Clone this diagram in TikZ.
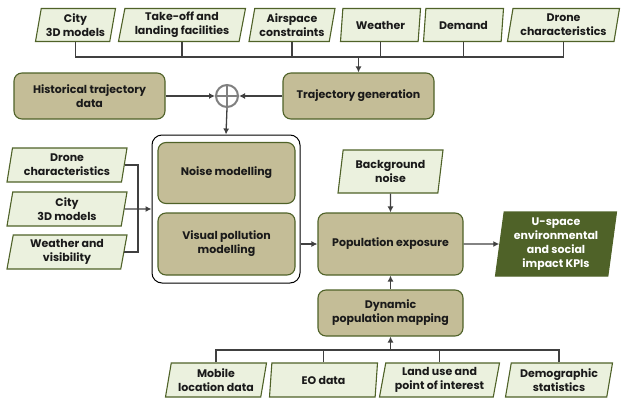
\documentclass[tikz,border=0pt]{standalone}
\usepackage{fontspec}
\setmainfont{Poppins}
\usetikzlibrary{shapes.geometric,arrows.meta}

\definecolor{inputfill}{HTML}{EBF1DE}
\definecolor{olivedark}{HTML}{4F6228}
\definecolor{tanfill}{HTML}{C4BD97}
\definecolor{wire}{HTML}{404040}
\definecolor{inktext}{HTML}{1A1A1A}

\tikzset{
  datain/.style={trapezium, trapezium left angle=77, trapezium right angle=103,
    trapezium stretches body, draw=olivedark, fill=inputfill, line width=1.1pt,
    align=center, inner sep=1pt, minimum height=33pt, text=inktext},
  dataout/.style={datain, trapezium left angle=81, trapezium right angle=99,
    fill=olivedark, text=white},
  process/.style={rectangle, rounded corners=8pt, draw=olivedark, fill=tanfill,
    line width=1.1pt, align=center, inner sep=2pt, text=inktext},
  wirebus/.style={draw=wire, line width=1.3pt},
  wirearr/.style={wirebus, -{Latex[length=6pt,width=6pt]}},
}

\begin{document}
\begin{tikzpicture}[x=1pt, y=-1pt, font=\fontsize{11}{14}\selectfont\bfseries]

  %% ════ top inputs ════
  \node[datain, minimum width=80pt]  (city)     at (75.5,25)  {City\\3D models};
  \node[datain, minimum width=127pt] (takeoff)  at (182,25)   {Take-off and\\landing facilities};
  \node[datain, minimum width=86pt]  (airspace) at (292,25)   {Airspace\\constraints};
  \node[datain, minimum width=80pt]  (weather)  at (380.5,25) {Weather};
  \node[datain, minimum width=80pt]  (demand)   at (463.5,25) {Demand};
  \node[datain, minimum width=112pt] (dronetop) at (563.5,25) {Drone\\characteristics};

  %% ════ trajectories ════
  \node[process, minimum width=151pt, minimum height=46pt] (histtraj) at (89.5,96)  {Historical trajectory\\data};
  \node[process, minimum width=151pt, minimum height=46pt] (trajgen)  at (358.5,96) {Trajectory generation};
  \node[circle, draw=gray, line width=2pt, minimum size=22pt, inner sep=0pt] (merge) at (227,96) {};
  \draw[gray, line width=2pt] (merge.north) -- (merge.south) (merge.west) -- (merge.east);

  %% ════ impact models ════
  \node[rectangle, rounded corners=10pt, draw=black, line width=1pt,
        minimum width=148pt, minimum height=148pt] (models) at (226,209) {};
  \node[process, minimum width=137pt, minimum height=61pt] (noise)  at (226.5,173) {Noise modelling};
  \node[process, minimum width=137pt, minimum height=62pt] (visual) at (226.5,244) {Visual pollution\\modelling};

  %% ════ left inputs ════
  \node[datain, minimum width=120pt, minimum height=34pt] (droneleft)   at (67,165) {Drone\\characteristics};
  \node[datain, minimum width=120pt, minimum height=34pt] (cityleft)    at (67,209) {City\\3D models};
  \node[datain, minimum width=120pt, minimum height=34pt] (weatherleft) at (67,252) {Weather and\\visibility};

  %% ════ exposure ════
  \node[process, minimum width=145pt, minimum height=62pt] (popexp) at (390.5,244) {Population exposure};
  \node[datain, minimum width=105pt, minimum height=43pt, trapezium left angle=78, trapezium right angle=102] (bgnoise) at (390.5,171.5) {Background\\noise};
  \node[dataout, minimum width=121pt, minimum height=64pt] (kpis) at (556,244) {U-space\\environmental\\and social\\impact KPIs};
  \node[process, minimum width=145pt, minimum height=46pt] (dynpop) at (390.5,313) {Dynamic\\population mapping};

  %% ════ bottom inputs ════
  \node[datain, minimum width=101pt, minimum height=34pt] (mobile)  at (216,380) {Mobile\\location data};
  \node[datain, minimum width=108pt, minimum height=34pt] (eodata)  at (323.5,380) {EO data};
  \node[datain, minimum width=120pt, minimum height=34pt] (landuse) at (439.5,380) {Land use and\\point of interest};
  \node[datain, minimum width=107pt, minimum height=34pt] (demog)   at (559,380) {Demographic\\statistics};

  %% ════ connectors ════
  \coordinate (topbus) at (358.5,57);
  \foreach \src in {city,takeoff,airspace,weather,demand,dronetop}
    \draw[wirebus] (\src.south) |- (topbus);
  \draw[wirearr] (topbus) -- (trajgen.north);
  \draw[wirearr] (histtraj.east) -- (merge.west);
  \draw[wirearr] (trajgen.west) -- (merge.east);
  \draw[wirearr] (merge.south) -- (models.north);

  \coordinate (leftbus) at (138,209);
  \draw[wirebus] (droneleft.east) -| (leftbus);
  \draw[wirebus] (weatherleft.east) -| (leftbus);
  \draw[wirearr] (cityleft.east) -- (models.west);

  \draw[wirearr] (visual.east -| models.east) -- (popexp.west);
  \draw[wirearr] (bgnoise.south) -- (popexp.north);
  \draw[wirearr] (popexp.east) -- (kpis.west);
  \draw[wirearr] (dynpop.north) -- (popexp.south);

  \coordinate (botbus) at (390.5,350);
  \foreach \src in {mobile,eodata,landuse,demog}
    \draw[wirebus] (\src.north) |- (botbus);
  \draw[wirearr] (botbus) -- (dynpop.south);

  % canvas 1:1 with the reference
  \pgfresetboundingbox
  \path[use as bounding box] (0,0) rectangle (621,399);
\end{tikzpicture}
\end{document}
